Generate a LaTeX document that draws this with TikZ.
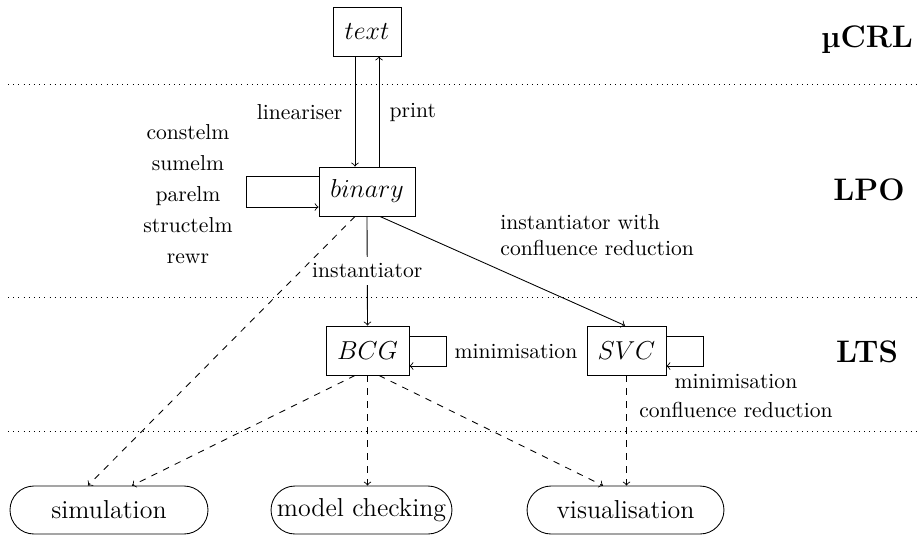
\documentclass[tikz,border=0pt]{standalone}
\usetikzlibrary{arrows}
\begin{document}
\begin{tikzpicture}[x=0.4626pt,y=-0.4626pt,
  fmt/.style={draw, inner sep=0pt, minimum height=22.7pt, font=\large},
  tool/.style={draw, inner sep=0pt, minimum height=22.2pt, rounded corners=11.1pt, font=\large},
  lvl/.style={font=\Large\bfseries},
  sep/.style={dotted},
  arr/.style={->},
  darr/.style={->, dashed},
  lbl/.style={inner sep=1pt}]
\useasboundingbox (0,0) rectangle (917,536);
% separators
\draw[sep] (8,84) -- (917,84);
\draw[sep] (8,297) -- (917,297);
\draw[sep] (8,431) -- (917,431);
% level labels
\node[lvl] (lmucrl) at (867,40) {µCRL};
\node[lvl] (llpo) at (869,190) {LPO};
\node[lvl] (llts) at (867,352) {LTS};
% format nodes
\node[fmt, minimum width=31.5pt] (txt) at (367,31.5) {$text$};
\node[fmt, minimum width=44.4pt] (binary) at (367,191.5) {$binary$};
\node[fmt, minimum width=38.4pt] (BCG) at (367.5,350.5) {$BCG$};
\node[fmt, minimum width=36.5pt] (SVC) at (626.5,350.5) {$SVC$};
% tool nodes
\node[tool, minimum width=91.6pt] (sim) at (109,510) {simulation};
\node[tool, minimum width=83.7pt] (mc) at (361.5,510) {model checking};
\node[tool, minimum width=91.1pt] (vis) at (625.5,510) {visualisation};
% lineariser / print
\draw[arr] (355,0 |- txt.south) -- (355,0 |- binary.north);
\draw[arr] (379,0 |- binary.north) -- (379,0 |- txt.south);
\node[lbl, anchor=east] (llin) at (345,112) {lineariser};
\node[lbl, anchor=west] (lprint) at (387,112) {print};
% LPO tools loop
\coordinate (bl1) at (246,176);
\coordinate (bl2) at (246,207);
\draw[arr] (binary.west |- bl1) -- (bl1) -- (bl2) -- (binary.west |- bl2);
\node[align=center, font=\fontsize{10}{14.4}\selectfont] (ltools) at (188,194)
  {constelm\\sumelm\\parelm\\structelm\\rewr};
% instantiator
\draw[arr] (binary.south) -- node[fill=white, inner sep=3pt, pos=0.5] (linst) {instantiator} (BCG.north);
\draw[arr] (380,0 |- binary.south) -- (625,0 |- SVC.north);
\node[anchor=west, align=left, inner sep=0pt] (linstc) at (500,235)
  {instantiator with\\confluence reduction};
% BCG loop
\coordinate (cl1) at (446,336);
\coordinate (cl2) at (446,366);
\draw[arr] (BCG.east |- cl1) -- (cl1) -- (cl2) -- (BCG.east |- cl2);
\node (lmin1) at (516,352) {minimisation};
% SVC loop
\coordinate (sl1) at (703,336);
\coordinate (sl2) at (703,366);
\draw[arr] (SVC.east |- sl1) -- (sl1) -- (sl2) -- (SVC.east |- sl2);
\node[align=center, font=\fontsize{10}{13}\selectfont] (lmin2) at (736,396)
  {minimisation\\confluence reduction};
% dashed arrows to tools
\draw[darr] (355,0 |- binary.south) -- (88,0 |- sim.north);
\draw[darr] (355,0 |- BCG.south) -- (132,0 |- sim.north);
\draw[darr] (367.5,0 |- BCG.south) -- (367.5,0 |- mc.north);
\draw[darr] (379,0 |- BCG.south) -- (603,0 |- vis.north);
\draw[darr] (626.5,0 |- SVC.south) -- (626.5,0 |- vis.north);
\end{tikzpicture}
\end{document}
